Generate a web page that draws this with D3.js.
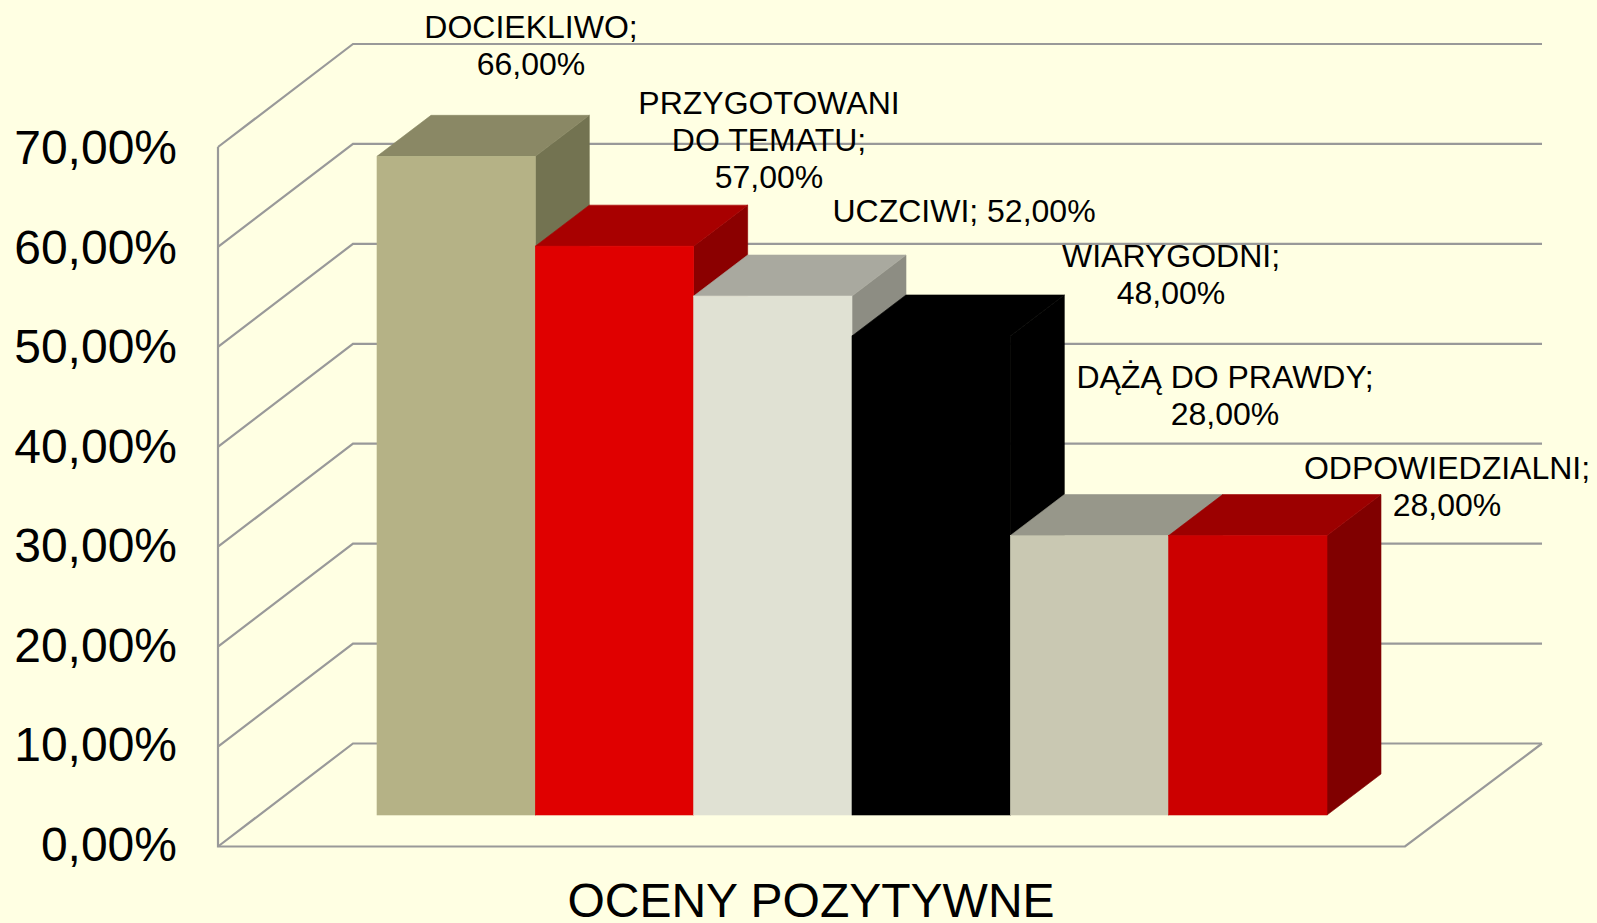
<!DOCTYPE html>
<html>
<head>
<meta charset="utf-8">
<title>OCENY POZYTYWNE</title>
<script src="https://cdn.jsdelivr.net/npm/d3@7"></script>
<style>
    html, body { margin: 0; padding: 0; background: #ffffe3; overflow: hidden; }
    svg { display: block; }
    text { font-family: "Liberation Sans", Arial, sans-serif; fill: #000; }
</style>
</head>
<body>
<div id="chart"></div>
<script>
// data
const categories = ["DOCIEKLIWO", "PRZYGOTOWANI DO TEMATU", "UCZCIWI", "WIARYGODNI", "DĄŻĄ DO PRAWDY", "ODPOWIEDZIALNI"];
const values = [66, 57, 52, 48, 28, 28];
const tickValues = [0, 10, 20, 30, 40, 50, 60, 70];
const groupLabel = "OCENY POZYTYWNE";
const labelLines = [
    ["DOCIEKLIWO;", "66,00%"],
    ["PRZYGOTOWANI", "DO TEMATU;", "57,00%"],
    ["UCZCIWI; 52,00%"],
    ["WIARYGODNI;", "48,00%"],
    ["DĄŻĄ DO PRAWDY;", "28,00%"],
    ["ODPOWIEDZIALNI;", "28,00%"]
];

// colours per bar: front, top, side
const frontColors = ["#b5b286", "#e00000", "#e0e1d3", "#000000", "#c9c8b2", "#cc0000"];
const topColors = ["#8a8865", "#a80000", "#a9a99f", "#000000", "#97978a", "#9c0000"];
const sideColors = ["#737351", "#8b0000", "#8d8d83", "#000000", "#7e7e72", "#800000"];

// hand placed label spots, first line centre x and baseline y
const labelX = [531, 769, 964, 1171, 1225, 1447];
const labelY = [38, 114, 222, 267, 388, 479];

const width = 1597, height = 923;
const wallDx = 135, wallDy = 103;
const barDx = 54, barDy = 41;

const svg = d3.select("#chart").append("svg")
    .attr("width", width)
    .attr("height", height)
    .attr("viewBox", [0, 0, width, height]);

svg.append("rect").attr("width", width).attr("height", height).attr("fill", "#ffffe3");

// wall scale is the front edge of the left wall
const yWall = d3.scaleLinear().domain([0, 70]).range([846.5, 147]);
// axis labels sit on a slightly tighter pitch than the gridlines
const yAxis = d3.scaleLinear().domain([0, 70]).range([844.7, 147.7]);
// bars stand further back on the floor, so they get their own baseline
const yBar = d3.scaleLinear().domain([0, 70]).range([815, 116.4]);
const x = d3.scaleBand().domain(categories).range([377, 1327]);

const gridColor = "#999999";
const wallX = 218, floorRight = 1405;
const backX = wallX + wallDx, backRight = floorRight + wallDx + 2;

// gridlines go up the side wall then along the back wall
const grid = svg.append("g").attr("fill", "none").attr("stroke", gridColor).attr("stroke-width", 2.2);

grid.selectAll(".gridline")
    .data(tickValues)
    .enter()
    .append("path")
    .attr("class", "gridline")
    .attr("d", d => `M${wallX},${yWall(d)}L${backX},${yWall(d) - wallDy}L${backRight},${yWall(d) - wallDy}`);

grid.append("path")
    .attr("d", `M${wallX},${yWall(70)}V${yWall(0)}H${floorRight}L${backRight},${yWall(0) - wallDy}`);

// axis labels
const axis = d3.axisLeft(yAxis)
    .tickValues(tickValues)
    .tickSize(0)
    .tickPadding(0)
    .tickFormat(d => d3.format(".2f")(d).replace(".", ",") + "%");

const axisGroup = svg.append("g")
    .attr("transform", "translate(177,0)")
    .call(axis);
axisGroup.select(".domain").remove();
axisGroup.selectAll("text")
    .attr("font-size", 48)
    .attr("font-family", "Liberation Sans")
    .attr("dy", "0.33em");

// bars, left to right so each one covers the side of the one before
const bars = svg.selectAll(".bar")
    .data(categories)
    .enter()
    .append("g")
    .attr("class", "bar");

// thin stroke in the same colour closes the seams between faces
bars.append("polygon")
    .attr("fill", (d, i) => sideColors[i])
    .attr("stroke", (d, i) => sideColors[i])
    .attr("stroke-width", 0.6)
    .attr("points", (d, i) => {
        const r = x(d) + x.bandwidth(), t = yBar(values[i]), b = yBar(0);
        return [[r, t], [r + barDx, t - barDy], [r + barDx, b - barDy], [r, b]].join(" ");
    });

bars.append("polygon")
    .attr("fill", (d, i) => topColors[i])
    .attr("stroke", (d, i) => topColors[i])
    .attr("stroke-width", 0.6)
    .attr("points", (d, i) => {
        const l = x(d), r = l + x.bandwidth(), t = yBar(values[i]);
        return [[l, t], [l + barDx, t - barDy], [r + barDx, t - barDy], [r, t]].join(" ");
    });

bars.append("rect")
    .attr("fill", (d, i) => frontColors[i])
    .attr("stroke", (d, i) => frontColors[i])
    .attr("stroke-width", 0.6)
    .attr("x", d => x(d))
    .attr("y", (d, i) => yBar(values[i]))
    .attr("width", x.bandwidth())
    .attr("height", (d, i) => yBar(0) - yBar(values[i]));

// data labels
const labels = svg.selectAll(".data-label")
    .data(labelLines)
    .enter()
    .append("text")
    .attr("class", "data-label")
    .attr("text-anchor", "middle")
    .attr("font-size", 32);

labels.selectAll("tspan")
    .data((d, i) => d.map((line, j) => ({ line, j, i })))
    .enter()
    .append("tspan")
    .attr("x", d => labelX[d.i])
    .attr("y", d => labelY[d.i] + d.j * 37)
    .text(d => d.line);

svg.append("text")
    .attr("x", 811)
    .attr("y", 917)
    .attr("text-anchor", "middle")
    .attr("font-size", 48)
    .text(groupLabel);
</script>
</body>
</html>
